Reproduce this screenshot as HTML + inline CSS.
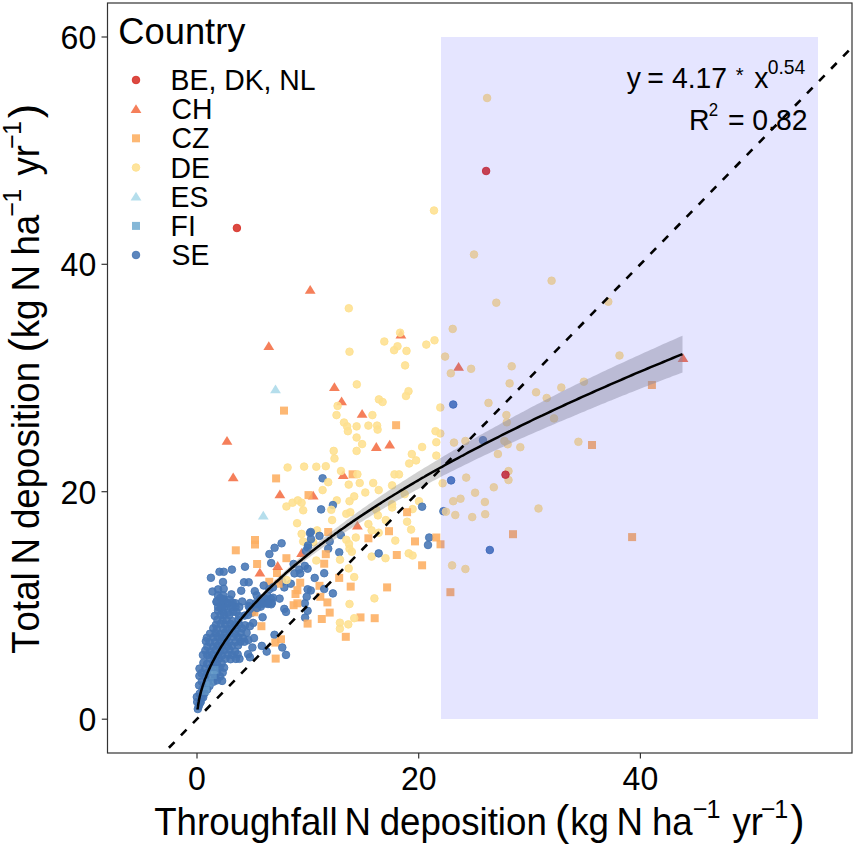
<!DOCTYPE html>
<html><head><meta charset="utf-8"><style>
html,body{margin:0;padding:0;background:#fff;width:855px;height:846px;overflow:hidden}
svg{display:block}
text{font-family:"Liberation Sans",sans-serif;fill:#000;font-kerning:none}
</style></head><body>
<svg width="855" height="846" viewBox="0 0 855 846">
<defs><clipPath id="pc"><rect x="107" y="3" width="745" height="750"/></clipPath></defs>
<g clip-path="url(#pc)" fill-opacity="0.88">
<circle cx="217.9" cy="595.2" r="3.8" fill="#4575b4" stroke="#4575b4" stroke-width="1" stroke-opacity="0.88"/>
<circle cx="223.2" cy="595.3" r="3.8" fill="#4575b4" stroke="#4575b4" stroke-width="1" stroke-opacity="0.88"/>
<circle cx="220.2" cy="598.0" r="3.8" fill="#4575b4" stroke="#4575b4" stroke-width="1" stroke-opacity="0.88"/>
<circle cx="224.1" cy="599.4" r="3.8" fill="#4575b4" stroke="#4575b4" stroke-width="1" stroke-opacity="0.88"/>
<circle cx="229.6" cy="599.6" r="3.8" fill="#4575b4" stroke="#4575b4" stroke-width="1" stroke-opacity="0.88"/>
<circle cx="259.9" cy="599.1" r="3.8" fill="#4575b4" stroke="#4575b4" stroke-width="1" stroke-opacity="0.88"/>
<circle cx="264.5" cy="598.3" r="3.8" fill="#4575b4" stroke="#4575b4" stroke-width="1" stroke-opacity="0.88"/>
<circle cx="271.0" cy="598.7" r="3.8" fill="#4575b4" stroke="#4575b4" stroke-width="1" stroke-opacity="0.88"/>
<circle cx="216.5" cy="602.1" r="3.8" fill="#4575b4" stroke="#4575b4" stroke-width="1" stroke-opacity="0.88"/>
<circle cx="222.9" cy="603.9" r="3.8" fill="#4575b4" stroke="#4575b4" stroke-width="1" stroke-opacity="0.88"/>
<circle cx="227.0" cy="602.9" r="3.8" fill="#4575b4" stroke="#4575b4" stroke-width="1" stroke-opacity="0.88"/>
<circle cx="232.7" cy="602.6" r="3.8" fill="#4575b4" stroke="#4575b4" stroke-width="1" stroke-opacity="0.88"/>
<circle cx="257.6" cy="603.5" r="3.8" fill="#4575b4" stroke="#4575b4" stroke-width="1" stroke-opacity="0.88"/>
<circle cx="262.1" cy="602.4" r="3.8" fill="#4575b4" stroke="#4575b4" stroke-width="1" stroke-opacity="0.88"/>
<circle cx="268.1" cy="602.5" r="3.8" fill="#4575b4" stroke="#4575b4" stroke-width="1" stroke-opacity="0.88"/>
<circle cx="271.9" cy="602.9" r="3.8" fill="#4575b4" stroke="#4575b4" stroke-width="1" stroke-opacity="0.88"/>
<circle cx="220.6" cy="608.0" r="3.8" fill="#4575b4" stroke="#4575b4" stroke-width="1" stroke-opacity="0.88"/>
<circle cx="224.4" cy="606.9" r="3.8" fill="#4575b4" stroke="#4575b4" stroke-width="1" stroke-opacity="0.88"/>
<circle cx="230.6" cy="607.6" r="3.8" fill="#4575b4" stroke="#4575b4" stroke-width="1" stroke-opacity="0.88"/>
<circle cx="235.6" cy="607.0" r="3.8" fill="#4575b4" stroke="#4575b4" stroke-width="1" stroke-opacity="0.88"/>
<circle cx="239.3" cy="606.9" r="3.8" fill="#4575b4" stroke="#4575b4" stroke-width="1" stroke-opacity="0.88"/>
<circle cx="249.7" cy="607.2" r="3.8" fill="#4575b4" stroke="#4575b4" stroke-width="1" stroke-opacity="0.88"/>
<circle cx="254.8" cy="607.1" r="3.8" fill="#4575b4" stroke="#4575b4" stroke-width="1" stroke-opacity="0.88"/>
<circle cx="260.8" cy="606.6" r="3.8" fill="#4575b4" stroke="#4575b4" stroke-width="1" stroke-opacity="0.88"/>
<circle cx="218.1" cy="610.7" r="3.8" fill="#4575b4" stroke="#4575b4" stroke-width="1" stroke-opacity="0.88"/>
<circle cx="223.3" cy="612.0" r="3.8" fill="#4575b4" stroke="#4575b4" stroke-width="1" stroke-opacity="0.88"/>
<circle cx="228.3" cy="612.4" r="3.8" fill="#4575b4" stroke="#4575b4" stroke-width="1" stroke-opacity="0.88"/>
<circle cx="233.3" cy="611.8" r="3.8" fill="#4575b4" stroke="#4575b4" stroke-width="1" stroke-opacity="0.88"/>
<circle cx="236.5" cy="612.1" r="3.8" fill="#4575b4" stroke="#4575b4" stroke-width="1" stroke-opacity="0.88"/>
<circle cx="252.3" cy="612.5" r="3.8" fill="#4575b4" stroke="#4575b4" stroke-width="1" stroke-opacity="0.88"/>
<circle cx="214.8" cy="615.9" r="3.8" fill="#4575b4" stroke="#4575b4" stroke-width="1" stroke-opacity="0.88"/>
<circle cx="220.6" cy="615.0" r="3.8" fill="#4575b4" stroke="#4575b4" stroke-width="1" stroke-opacity="0.88"/>
<circle cx="224.1" cy="615.2" r="3.8" fill="#4575b4" stroke="#4575b4" stroke-width="1" stroke-opacity="0.88"/>
<circle cx="229.2" cy="615.1" r="3.8" fill="#4575b4" stroke="#4575b4" stroke-width="1" stroke-opacity="0.88"/>
<circle cx="239.2" cy="616.0" r="3.8" fill="#4575b4" stroke="#4575b4" stroke-width="1" stroke-opacity="0.88"/>
<circle cx="244.6" cy="615.6" r="3.8" fill="#4575b4" stroke="#4575b4" stroke-width="1" stroke-opacity="0.88"/>
<circle cx="217.4" cy="619.8" r="3.8" fill="#4575b4" stroke="#4575b4" stroke-width="1" stroke-opacity="0.88"/>
<circle cx="222.6" cy="620.7" r="3.8" fill="#4575b4" stroke="#4575b4" stroke-width="1" stroke-opacity="0.88"/>
<circle cx="226.6" cy="620.2" r="3.8" fill="#4575b4" stroke="#4575b4" stroke-width="1" stroke-opacity="0.88"/>
<circle cx="232.4" cy="621.1" r="3.8" fill="#4575b4" stroke="#4575b4" stroke-width="1" stroke-opacity="0.88"/>
<circle cx="238.4" cy="620.1" r="3.8" fill="#4575b4" stroke="#4575b4" stroke-width="1" stroke-opacity="0.88"/>
<circle cx="215.9" cy="624.8" r="3.8" fill="#4575b4" stroke="#4575b4" stroke-width="1" stroke-opacity="0.88"/>
<circle cx="220.6" cy="623.7" r="3.8" fill="#4575b4" stroke="#4575b4" stroke-width="1" stroke-opacity="0.88"/>
<circle cx="225.5" cy="624.7" r="3.8" fill="#4575b4" stroke="#4575b4" stroke-width="1" stroke-opacity="0.88"/>
<circle cx="230.4" cy="623.9" r="3.8" fill="#4575b4" stroke="#4575b4" stroke-width="1" stroke-opacity="0.88"/>
<circle cx="235.5" cy="625.5" r="3.8" fill="#4575b4" stroke="#4575b4" stroke-width="1" stroke-opacity="0.88"/>
<circle cx="239.1" cy="624.3" r="3.8" fill="#4575b4" stroke="#4575b4" stroke-width="1" stroke-opacity="0.88"/>
<circle cx="245.1" cy="625.3" r="3.8" fill="#4575b4" stroke="#4575b4" stroke-width="1" stroke-opacity="0.88"/>
<circle cx="213.3" cy="628.3" r="3.8" fill="#4575b4" stroke="#4575b4" stroke-width="1" stroke-opacity="0.88"/>
<circle cx="216.7" cy="629.5" r="3.8" fill="#4575b4" stroke="#4575b4" stroke-width="1" stroke-opacity="0.88"/>
<circle cx="223.3" cy="629.0" r="3.8" fill="#4575b4" stroke="#4575b4" stroke-width="1" stroke-opacity="0.88"/>
<circle cx="227.4" cy="629.4" r="3.8" fill="#4575b4" stroke="#4575b4" stroke-width="1" stroke-opacity="0.88"/>
<circle cx="231.9" cy="628.5" r="3.8" fill="#4575b4" stroke="#4575b4" stroke-width="1" stroke-opacity="0.88"/>
<circle cx="236.9" cy="629.1" r="3.8" fill="#4575b4" stroke="#4575b4" stroke-width="1" stroke-opacity="0.88"/>
<circle cx="242.1" cy="628.4" r="3.8" fill="#4575b4" stroke="#4575b4" stroke-width="1" stroke-opacity="0.88"/>
<circle cx="210.0" cy="633.7" r="3.8" fill="#4575b4" stroke="#4575b4" stroke-width="1" stroke-opacity="0.88"/>
<circle cx="215.7" cy="633.1" r="3.8" fill="#4575b4" stroke="#4575b4" stroke-width="1" stroke-opacity="0.88"/>
<circle cx="220.5" cy="634.2" r="3.8" fill="#4575b4" stroke="#4575b4" stroke-width="1" stroke-opacity="0.88"/>
<circle cx="224.9" cy="632.8" r="3.8" fill="#4575b4" stroke="#4575b4" stroke-width="1" stroke-opacity="0.88"/>
<circle cx="229.5" cy="633.7" r="3.8" fill="#4575b4" stroke="#4575b4" stroke-width="1" stroke-opacity="0.88"/>
<circle cx="235.4" cy="634.2" r="3.8" fill="#4575b4" stroke="#4575b4" stroke-width="1" stroke-opacity="0.88"/>
<circle cx="240.7" cy="632.8" r="3.8" fill="#4575b4" stroke="#4575b4" stroke-width="1" stroke-opacity="0.88"/>
<circle cx="206.9" cy="637.8" r="3.8" fill="#4575b4" stroke="#4575b4" stroke-width="1" stroke-opacity="0.88"/>
<circle cx="213.4" cy="637.4" r="3.8" fill="#4575b4" stroke="#4575b4" stroke-width="1" stroke-opacity="0.88"/>
<circle cx="217.6" cy="636.9" r="3.8" fill="#4575b4" stroke="#4575b4" stroke-width="1" stroke-opacity="0.88"/>
<circle cx="222.0" cy="638.0" r="3.8" fill="#4575b4" stroke="#4575b4" stroke-width="1" stroke-opacity="0.88"/>
<circle cx="226.7" cy="638.4" r="3.8" fill="#4575b4" stroke="#4575b4" stroke-width="1" stroke-opacity="0.88"/>
<circle cx="233.3" cy="636.8" r="3.8" fill="#4575b4" stroke="#4575b4" stroke-width="1" stroke-opacity="0.88"/>
<circle cx="238.4" cy="637.4" r="3.8" fill="#4575b4" stroke="#4575b4" stroke-width="1" stroke-opacity="0.88"/>
<circle cx="243.0" cy="638.1" r="3.8" fill="#4575b4" stroke="#4575b4" stroke-width="1" stroke-opacity="0.88"/>
<circle cx="205.9" cy="641.2" r="3.8" fill="#4575b4" stroke="#4575b4" stroke-width="1" stroke-opacity="0.88"/>
<circle cx="209.7" cy="642.4" r="3.8" fill="#4575b4" stroke="#4575b4" stroke-width="1" stroke-opacity="0.88"/>
<circle cx="215.2" cy="642.1" r="3.8" fill="#4575b4" stroke="#4575b4" stroke-width="1" stroke-opacity="0.88"/>
<circle cx="220.3" cy="641.9" r="3.8" fill="#4575b4" stroke="#4575b4" stroke-width="1" stroke-opacity="0.88"/>
<circle cx="224.6" cy="641.3" r="3.8" fill="#4575b4" stroke="#4575b4" stroke-width="1" stroke-opacity="0.88"/>
<circle cx="229.1" cy="642.4" r="3.8" fill="#4575b4" stroke="#4575b4" stroke-width="1" stroke-opacity="0.88"/>
<circle cx="235.5" cy="642.0" r="3.8" fill="#4575b4" stroke="#4575b4" stroke-width="1" stroke-opacity="0.88"/>
<circle cx="240.5" cy="641.7" r="3.8" fill="#4575b4" stroke="#4575b4" stroke-width="1" stroke-opacity="0.88"/>
<circle cx="244.5" cy="641.7" r="3.8" fill="#4575b4" stroke="#4575b4" stroke-width="1" stroke-opacity="0.88"/>
<circle cx="207.3" cy="646.8" r="3.8" fill="#4575b4" stroke="#4575b4" stroke-width="1" stroke-opacity="0.88"/>
<circle cx="213.1" cy="646.8" r="3.8" fill="#4575b4" stroke="#4575b4" stroke-width="1" stroke-opacity="0.88"/>
<circle cx="217.7" cy="645.6" r="3.8" fill="#4575b4" stroke="#4575b4" stroke-width="1" stroke-opacity="0.88"/>
<circle cx="222.3" cy="645.7" r="3.8" fill="#4575b4" stroke="#4575b4" stroke-width="1" stroke-opacity="0.88"/>
<circle cx="227.6" cy="646.4" r="3.8" fill="#4575b4" stroke="#4575b4" stroke-width="1" stroke-opacity="0.88"/>
<circle cx="231.9" cy="645.8" r="3.8" fill="#4575b4" stroke="#4575b4" stroke-width="1" stroke-opacity="0.88"/>
<circle cx="238.1" cy="645.4" r="3.8" fill="#4575b4" stroke="#4575b4" stroke-width="1" stroke-opacity="0.88"/>
<circle cx="205.3" cy="650.5" r="3.8" fill="#4575b4" stroke="#4575b4" stroke-width="1" stroke-opacity="0.88"/>
<circle cx="210.1" cy="651.5" r="3.8" fill="#4575b4" stroke="#4575b4" stroke-width="1" stroke-opacity="0.88"/>
<circle cx="215.8" cy="649.9" r="3.8" fill="#4575b4" stroke="#4575b4" stroke-width="1" stroke-opacity="0.88"/>
<circle cx="220.6" cy="650.9" r="3.8" fill="#4575b4" stroke="#4575b4" stroke-width="1" stroke-opacity="0.88"/>
<circle cx="224.1" cy="650.3" r="3.8" fill="#4575b4" stroke="#4575b4" stroke-width="1" stroke-opacity="0.88"/>
<circle cx="229.5" cy="649.8" r="3.8" fill="#4575b4" stroke="#4575b4" stroke-width="1" stroke-opacity="0.88"/>
<circle cx="235.1" cy="651.5" r="3.8" fill="#4575b4" stroke="#4575b4" stroke-width="1" stroke-opacity="0.88"/>
<circle cx="202.9" cy="655.0" r="3.8" fill="#4575b4" stroke="#4575b4" stroke-width="1" stroke-opacity="0.88"/>
<circle cx="207.3" cy="655.2" r="3.8" fill="#4575b4" stroke="#4575b4" stroke-width="1" stroke-opacity="0.88"/>
<circle cx="212.1" cy="654.9" r="3.8" fill="#4575b4" stroke="#4575b4" stroke-width="1" stroke-opacity="0.88"/>
<circle cx="218.0" cy="654.8" r="3.8" fill="#4575b4" stroke="#4575b4" stroke-width="1" stroke-opacity="0.88"/>
<circle cx="221.9" cy="655.7" r="3.8" fill="#4575b4" stroke="#4575b4" stroke-width="1" stroke-opacity="0.88"/>
<circle cx="227.9" cy="654.7" r="3.8" fill="#4575b4" stroke="#4575b4" stroke-width="1" stroke-opacity="0.88"/>
<circle cx="232.2" cy="655.0" r="3.8" fill="#4575b4" stroke="#4575b4" stroke-width="1" stroke-opacity="0.88"/>
<circle cx="237.7" cy="654.4" r="3.8" fill="#4575b4" stroke="#4575b4" stroke-width="1" stroke-opacity="0.88"/>
<circle cx="248.1" cy="654.2" r="3.8" fill="#4575b4" stroke="#4575b4" stroke-width="1" stroke-opacity="0.88"/>
<circle cx="209.9" cy="658.6" r="3.8" fill="#4575b4" stroke="#4575b4" stroke-width="1" stroke-opacity="0.88"/>
<circle cx="215.2" cy="659.0" r="3.8" fill="#4575b4" stroke="#4575b4" stroke-width="1" stroke-opacity="0.88"/>
<circle cx="219.2" cy="658.4" r="3.8" fill="#4575b4" stroke="#4575b4" stroke-width="1" stroke-opacity="0.88"/>
<circle cx="225.5" cy="658.8" r="3.8" fill="#4575b4" stroke="#4575b4" stroke-width="1" stroke-opacity="0.88"/>
<circle cx="230.6" cy="659.2" r="3.8" fill="#4575b4" stroke="#4575b4" stroke-width="1" stroke-opacity="0.88"/>
<circle cx="235.9" cy="658.9" r="3.8" fill="#4575b4" stroke="#4575b4" stroke-width="1" stroke-opacity="0.88"/>
<circle cx="239.5" cy="658.8" r="3.8" fill="#4575b4" stroke="#4575b4" stroke-width="1" stroke-opacity="0.88"/>
<circle cx="203.4" cy="662.7" r="3.8" fill="#4575b4" stroke="#4575b4" stroke-width="1" stroke-opacity="0.88"/>
<circle cx="207.1" cy="663.8" r="3.8" fill="#4575b4" stroke="#4575b4" stroke-width="1" stroke-opacity="0.88"/>
<circle cx="213.4" cy="662.8" r="3.8" fill="#4575b4" stroke="#4575b4" stroke-width="1" stroke-opacity="0.88"/>
<circle cx="217.1" cy="664.3" r="3.8" fill="#4575b4" stroke="#4575b4" stroke-width="1" stroke-opacity="0.88"/>
<circle cx="221.7" cy="663.4" r="3.8" fill="#4575b4" stroke="#4575b4" stroke-width="1" stroke-opacity="0.88"/>
<circle cx="199.5" cy="668.6" r="3.8" fill="#4575b4" stroke="#4575b4" stroke-width="1" stroke-opacity="0.88"/>
<circle cx="205.3" cy="668.7" r="3.8" fill="#4575b4" stroke="#4575b4" stroke-width="1" stroke-opacity="0.88"/>
<circle cx="210.7" cy="667.8" r="3.8" fill="#4575b4" stroke="#4575b4" stroke-width="1" stroke-opacity="0.88"/>
<circle cx="215.8" cy="668.4" r="3.8" fill="#4575b4" stroke="#4575b4" stroke-width="1" stroke-opacity="0.88"/>
<circle cx="219.7" cy="667.7" r="3.8" fill="#4575b4" stroke="#4575b4" stroke-width="1" stroke-opacity="0.88"/>
<circle cx="224.1" cy="667.7" r="3.8" fill="#4575b4" stroke="#4575b4" stroke-width="1" stroke-opacity="0.88"/>
<circle cx="201.5" cy="673.2" r="3.8" fill="#4575b4" stroke="#4575b4" stroke-width="1" stroke-opacity="0.88"/>
<circle cx="206.9" cy="673.1" r="3.8" fill="#4575b4" stroke="#4575b4" stroke-width="1" stroke-opacity="0.88"/>
<circle cx="211.7" cy="672.2" r="3.8" fill="#4575b4" stroke="#4575b4" stroke-width="1" stroke-opacity="0.88"/>
<circle cx="216.9" cy="672.9" r="3.8" fill="#4575b4" stroke="#4575b4" stroke-width="1" stroke-opacity="0.88"/>
<circle cx="222.7" cy="672.6" r="3.8" fill="#4575b4" stroke="#4575b4" stroke-width="1" stroke-opacity="0.88"/>
<circle cx="199.4" cy="675.9" r="3.8" fill="#4575b4" stroke="#4575b4" stroke-width="1" stroke-opacity="0.88"/>
<circle cx="205.9" cy="677.1" r="3.8" fill="#4575b4" stroke="#4575b4" stroke-width="1" stroke-opacity="0.88"/>
<circle cx="210.7" cy="677.6" r="3.8" fill="#4575b4" stroke="#4575b4" stroke-width="1" stroke-opacity="0.88"/>
<circle cx="215.2" cy="677.5" r="3.8" fill="#4575b4" stroke="#4575b4" stroke-width="1" stroke-opacity="0.88"/>
<circle cx="220.1" cy="676.4" r="3.8" fill="#4575b4" stroke="#4575b4" stroke-width="1" stroke-opacity="0.88"/>
<circle cx="201.8" cy="681.5" r="3.8" fill="#4575b4" stroke="#4575b4" stroke-width="1" stroke-opacity="0.88"/>
<circle cx="207.9" cy="681.9" r="3.8" fill="#4575b4" stroke="#4575b4" stroke-width="1" stroke-opacity="0.88"/>
<circle cx="213.5" cy="681.7" r="3.8" fill="#4575b4" stroke="#4575b4" stroke-width="1" stroke-opacity="0.88"/>
<circle cx="217.2" cy="680.3" r="3.8" fill="#4575b4" stroke="#4575b4" stroke-width="1" stroke-opacity="0.88"/>
<circle cx="222.1" cy="680.9" r="3.8" fill="#4575b4" stroke="#4575b4" stroke-width="1" stroke-opacity="0.88"/>
<circle cx="199.1" cy="685.4" r="3.8" fill="#4575b4" stroke="#4575b4" stroke-width="1" stroke-opacity="0.88"/>
<circle cx="204.2" cy="684.9" r="3.8" fill="#4575b4" stroke="#4575b4" stroke-width="1" stroke-opacity="0.88"/>
<circle cx="209.5" cy="685.9" r="3.8" fill="#4575b4" stroke="#4575b4" stroke-width="1" stroke-opacity="0.88"/>
<circle cx="202.6" cy="689.4" r="3.8" fill="#4575b4" stroke="#4575b4" stroke-width="1" stroke-opacity="0.88"/>
<circle cx="207.2" cy="689.5" r="3.8" fill="#4575b4" stroke="#4575b4" stroke-width="1" stroke-opacity="0.88"/>
<circle cx="199.6" cy="693.7" r="3.8" fill="#4575b4" stroke="#4575b4" stroke-width="1" stroke-opacity="0.88"/>
<circle cx="204.6" cy="693.2" r="3.8" fill="#4575b4" stroke="#4575b4" stroke-width="1" stroke-opacity="0.88"/>
<circle cx="203.2" cy="697.3" r="3.8" fill="#4575b4" stroke="#4575b4" stroke-width="1" stroke-opacity="0.88"/>
<circle cx="200.7" cy="701.9" r="3.8" fill="#4575b4" stroke="#4575b4" stroke-width="1" stroke-opacity="0.88"/>
<path d="M310.2 284.9L315.6 293.7L304.8 293.7Z" fill="#f46d43"/>
<circle cx="348.8" cy="308.3" r="3.8" fill="#fee090" stroke="#fee090" stroke-width="1" stroke-opacity="0.88"/>
<circle cx="434.0" cy="210.5" r="3.8" fill="#fee090" stroke="#fee090" stroke-width="1" stroke-opacity="0.88"/>
<path d="M268.8 341.2L274.2 350.0L263.4 350.0Z" fill="#f46d43"/>
<path d="M275.5 384.5L280.9 393.3L270.1 393.3Z" fill="#abd9e9"/>
<path d="M400.9 329.6L406.3 338.4L395.5 338.4Z" fill="#f46d43"/>
<circle cx="400.1" cy="332.7" r="3.8" fill="#fee090" stroke="#fee090" stroke-width="1" stroke-opacity="0.88"/>
<circle cx="384.3" cy="341.5" r="3.8" fill="#fee090" stroke="#fee090" stroke-width="1" stroke-opacity="0.88"/>
<circle cx="349.5" cy="351.7" r="3.8" fill="#fee090" stroke="#fee090" stroke-width="1" stroke-opacity="0.88"/>
<circle cx="397.5" cy="346.3" r="3.8" fill="#fee090" stroke="#fee090" stroke-width="1" stroke-opacity="0.88"/>
<circle cx="394.1" cy="350.2" r="3.8" fill="#fee090" stroke="#fee090" stroke-width="1" stroke-opacity="0.88"/>
<circle cx="406.5" cy="350.9" r="3.8" fill="#fee090" stroke="#fee090" stroke-width="1" stroke-opacity="0.88"/>
<circle cx="426.3" cy="344.6" r="3.8" fill="#fee090" stroke="#fee090" stroke-width="1" stroke-opacity="0.88"/>
<circle cx="434.5" cy="340.3" r="3.8" fill="#fee090" stroke="#fee090" stroke-width="1" stroke-opacity="0.88"/>
<circle cx="405.1" cy="365.4" r="3.8" fill="#fee090" stroke="#fee090" stroke-width="1" stroke-opacity="0.88"/>
<path d="M334.4 382.2L339.8 391.0L329.0 391.0Z" fill="#f46d43"/>
<circle cx="356.8" cy="384.4" r="3.8" fill="#fee090" stroke="#fee090" stroke-width="1" stroke-opacity="0.88"/>
<circle cx="408.5" cy="391.2" r="3.8" fill="#fee090" stroke="#fee090" stroke-width="1" stroke-opacity="0.88"/>
<circle cx="406.0" cy="396.0" r="3.8" fill="#fee090" stroke="#fee090" stroke-width="1" stroke-opacity="0.88"/>
<circle cx="378.9" cy="399.4" r="3.8" fill="#fee090" stroke="#fee090" stroke-width="1" stroke-opacity="0.88"/>
<circle cx="487.1" cy="98.0" r="3.8" fill="#fee090" stroke="#fee090" stroke-width="1" stroke-opacity="0.88"/>
<circle cx="474.0" cy="254.5" r="3.8" fill="#fee090" stroke="#fee090" stroke-width="1" stroke-opacity="0.88"/>
<circle cx="551.6" cy="280.7" r="3.8" fill="#fee090" stroke="#fee090" stroke-width="1" stroke-opacity="0.88"/>
<circle cx="496.3" cy="302.7" r="3.8" fill="#fee090" stroke="#fee090" stroke-width="1" stroke-opacity="0.88"/>
<circle cx="608.3" cy="301.7" r="3.8" fill="#fee090" stroke="#fee090" stroke-width="1" stroke-opacity="0.88"/>
<circle cx="452.7" cy="328.9" r="3.8" fill="#fee090" stroke="#fee090" stroke-width="1" stroke-opacity="0.88"/>
<rect x="280.0" y="406.6" width="8.0" height="8.0" fill="#fdae61"/>
<path d="M227.0 436.0L232.4 444.8L221.6 444.8Z" fill="#f46d43"/>
<circle cx="287.6" cy="467.5" r="3.8" fill="#fee090" stroke="#fee090" stroke-width="1" stroke-opacity="0.88"/>
<circle cx="304.1" cy="466.6" r="3.8" fill="#fee090" stroke="#fee090" stroke-width="1" stroke-opacity="0.88"/>
<path d="M341.6 396.4L347.0 405.2L336.2 405.2Z" fill="#f46d43"/>
<circle cx="337.6" cy="405.9" r="3.8" fill="#fee090" stroke="#fee090" stroke-width="1" stroke-opacity="0.88"/>
<circle cx="382.6" cy="402.0" r="3.8" fill="#fee090" stroke="#fee090" stroke-width="1" stroke-opacity="0.88"/>
<circle cx="440.3" cy="407.5" r="3.8" fill="#fee090" stroke="#fee090" stroke-width="1" stroke-opacity="0.88"/>
<path d="M362.1 409.0L367.5 417.8L356.7 417.8Z" fill="#f46d43"/>
<circle cx="372.4" cy="415.1" r="3.8" fill="#fee090" stroke="#fee090" stroke-width="1" stroke-opacity="0.88"/>
<circle cx="336.5" cy="415.1" r="3.8" fill="#fee090" stroke="#fee090" stroke-width="1" stroke-opacity="0.88"/>
<circle cx="344.0" cy="422.5" r="3.8" fill="#fee090" stroke="#fee090" stroke-width="1" stroke-opacity="0.88"/>
<circle cx="347.1" cy="426.4" r="3.8" fill="#fee090" stroke="#fee090" stroke-width="1" stroke-opacity="0.88"/>
<circle cx="347.9" cy="431.2" r="3.8" fill="#fee090" stroke="#fee090" stroke-width="1" stroke-opacity="0.88"/>
<circle cx="356.6" cy="426.4" r="3.8" fill="#fee090" stroke="#fee090" stroke-width="1" stroke-opacity="0.88"/>
<circle cx="368.4" cy="425.6" r="3.8" fill="#fee090" stroke="#fee090" stroke-width="1" stroke-opacity="0.88"/>
<circle cx="377.1" cy="425.6" r="3.8" fill="#fee090" stroke="#fee090" stroke-width="1" stroke-opacity="0.88"/>
<circle cx="377.6" cy="429.6" r="3.8" fill="#fee090" stroke="#fee090" stroke-width="1" stroke-opacity="0.88"/>
<rect x="392.1" y="421.2" width="8.0" height="8.0" fill="#fdae61"/>
<circle cx="435.5" cy="431.2" r="3.8" fill="#fee090" stroke="#fee090" stroke-width="1" stroke-opacity="0.88"/>
<circle cx="440.3" cy="433.5" r="3.8" fill="#fee090" stroke="#fee090" stroke-width="1" stroke-opacity="0.88"/>
<circle cx="356.6" cy="437.5" r="3.8" fill="#fee090" stroke="#fee090" stroke-width="1" stroke-opacity="0.88"/>
<circle cx="362.1" cy="444.1" r="3.8" fill="#fee090" stroke="#fee090" stroke-width="1" stroke-opacity="0.88"/>
<circle cx="356.6" cy="450.9" r="3.8" fill="#fee090" stroke="#fee090" stroke-width="1" stroke-opacity="0.88"/>
<path d="M376.3 442.1L381.7 450.9L370.9 450.9Z" fill="#f46d43"/>
<path d="M389.7 439.8L395.1 448.6L384.3 448.6Z" fill="#f46d43"/>
<circle cx="422.1" cy="447.0" r="3.8" fill="#fee090" stroke="#fee090" stroke-width="1" stroke-opacity="0.88"/>
<circle cx="436.3" cy="442.2" r="3.8" fill="#fee090" stroke="#fee090" stroke-width="1" stroke-opacity="0.88"/>
<circle cx="333.7" cy="450.9" r="3.8" fill="#fee090" stroke="#fee090" stroke-width="1" stroke-opacity="0.88"/>
<circle cx="334.5" cy="458.5" r="3.8" fill="#fee090" stroke="#fee090" stroke-width="1" stroke-opacity="0.88"/>
<circle cx="411.8" cy="454.1" r="3.8" fill="#fee090" stroke="#fee090" stroke-width="1" stroke-opacity="0.88"/>
<circle cx="416.1" cy="460.4" r="3.8" fill="#fee090" stroke="#fee090" stroke-width="1" stroke-opacity="0.88"/>
<circle cx="409.2" cy="463.5" r="3.8" fill="#fee090" stroke="#fee090" stroke-width="1" stroke-opacity="0.88"/>
<circle cx="436.3" cy="455.6" r="3.8" fill="#fee090" stroke="#fee090" stroke-width="1" stroke-opacity="0.88"/>
<circle cx="316.3" cy="466.7" r="3.8" fill="#fee090" stroke="#fee090" stroke-width="1" stroke-opacity="0.88"/>
<circle cx="325.8" cy="466.2" r="3.8" fill="#fee090" stroke="#fee090" stroke-width="1" stroke-opacity="0.88"/>
<circle cx="445.1" cy="356.6" r="3.8" fill="#fee090" stroke="#fee090" stroke-width="1" stroke-opacity="0.88"/>
<path d="M458.6 362.0L464.0 370.8L453.2 370.8Z" fill="#f46d43"/>
<circle cx="471.1" cy="368.8" r="3.8" fill="#fee090" stroke="#fee090" stroke-width="1" stroke-opacity="0.88"/>
<circle cx="450.8" cy="373.3" r="3.8" fill="#fee090" stroke="#fee090" stroke-width="1" stroke-opacity="0.88"/>
<circle cx="511.7" cy="366.3" r="3.8" fill="#fee090" stroke="#fee090" stroke-width="1" stroke-opacity="0.88"/>
<circle cx="509.6" cy="383.4" r="3.8" fill="#fee090" stroke="#fee090" stroke-width="1" stroke-opacity="0.88"/>
<circle cx="536.1" cy="392.3" r="3.8" fill="#fee090" stroke="#fee090" stroke-width="1" stroke-opacity="0.88"/>
<circle cx="546.7" cy="398.0" r="3.8" fill="#fee090" stroke="#fee090" stroke-width="1" stroke-opacity="0.88"/>
<circle cx="561.3" cy="387.5" r="3.8" fill="#fee090" stroke="#fee090" stroke-width="1" stroke-opacity="0.88"/>
<circle cx="453.2" cy="404.5" r="3.8" fill="#4575b4" stroke="#4575b4" stroke-width="1" stroke-opacity="0.88"/>
<circle cx="488.5" cy="402.9" r="3.8" fill="#fee090" stroke="#fee090" stroke-width="1" stroke-opacity="0.88"/>
<circle cx="506.4" cy="415.1" r="3.8" fill="#fee090" stroke="#fee090" stroke-width="1" stroke-opacity="0.88"/>
<circle cx="554.0" cy="418.4" r="3.8" fill="#fee090" stroke="#fee090" stroke-width="1" stroke-opacity="0.88"/>
<circle cx="619.5" cy="355.5" r="3.8" fill="#fee090" stroke="#fee090" stroke-width="1" stroke-opacity="0.88"/>
<circle cx="583.9" cy="381.7" r="3.8" fill="#fee090" stroke="#fee090" stroke-width="1" stroke-opacity="0.88"/>
<rect x="647.9" y="381.0" width="8.0" height="8.0" fill="#fdae61"/>
<path d="M683.0 353.2L688.4 362.0L677.6 362.0Z" fill="#f46d43"/>
<circle cx="506.8" cy="422.3" r="3.8" fill="#fee090" stroke="#fee090" stroke-width="1" stroke-opacity="0.88"/>
<circle cx="454.0" cy="442.6" r="3.8" fill="#fee090" stroke="#fee090" stroke-width="1" stroke-opacity="0.88"/>
<circle cx="465.4" cy="441.0" r="3.8" fill="#fee090" stroke="#fee090" stroke-width="1" stroke-opacity="0.88"/>
<circle cx="483.0" cy="440.2" r="3.8" fill="#4575b4" stroke="#4575b4" stroke-width="1" stroke-opacity="0.88"/>
<circle cx="504.4" cy="441.0" r="3.8" fill="#fee090" stroke="#fee090" stroke-width="1" stroke-opacity="0.88"/>
<circle cx="507.7" cy="444.3" r="3.8" fill="#fee090" stroke="#fee090" stroke-width="1" stroke-opacity="0.88"/>
<circle cx="520.3" cy="447.2" r="3.8" fill="#fee090" stroke="#fee090" stroke-width="1" stroke-opacity="0.88"/>
<circle cx="497.9" cy="454.0" r="3.8" fill="#fee090" stroke="#fee090" stroke-width="1" stroke-opacity="0.88"/>
<circle cx="578.4" cy="441.8" r="3.8" fill="#fee090" stroke="#fee090" stroke-width="1" stroke-opacity="0.88"/>
<circle cx="508.5" cy="471.1" r="3.8" fill="#fee090" stroke="#fee090" stroke-width="1" stroke-opacity="0.88"/>
<circle cx="508.5" cy="480.0" r="3.8" fill="#fee090" stroke="#fee090" stroke-width="1" stroke-opacity="0.88"/>
<circle cx="451.1" cy="480.4" r="3.8" fill="#4575b4" stroke="#4575b4" stroke-width="1" stroke-opacity="0.88"/>
<circle cx="466.2" cy="477.6" r="3.8" fill="#fee090" stroke="#fee090" stroke-width="1" stroke-opacity="0.88"/>
<circle cx="442.6" cy="483.3" r="3.8" fill="#fee090" stroke="#fee090" stroke-width="1" stroke-opacity="0.88"/>
<circle cx="493.8" cy="487.3" r="3.8" fill="#fee090" stroke="#fee090" stroke-width="1" stroke-opacity="0.88"/>
<circle cx="475.1" cy="492.7" r="3.8" fill="#fee090" stroke="#fee090" stroke-width="1" stroke-opacity="0.88"/>
<circle cx="460.5" cy="498.7" r="3.8" fill="#fee090" stroke="#fee090" stroke-width="1" stroke-opacity="0.88"/>
<circle cx="453.2" cy="501.2" r="3.8" fill="#fee090" stroke="#fee090" stroke-width="1" stroke-opacity="0.88"/>
<circle cx="484.9" cy="502.0" r="3.8" fill="#fee090" stroke="#fee090" stroke-width="1" stroke-opacity="0.88"/>
<circle cx="538.5" cy="508.5" r="3.8" fill="#fee090" stroke="#fee090" stroke-width="1" stroke-opacity="0.88"/>
<circle cx="443.4" cy="511.2" r="3.8" fill="#4575b4" stroke="#4575b4" stroke-width="1" stroke-opacity="0.88"/>
<circle cx="445.9" cy="511.7" r="3.8" fill="#fee090" stroke="#fee090" stroke-width="1" stroke-opacity="0.88"/>
<circle cx="455.3" cy="515.0" r="3.8" fill="#fee090" stroke="#fee090" stroke-width="1" stroke-opacity="0.88"/>
<circle cx="472.2" cy="517.1" r="3.8" fill="#fee090" stroke="#fee090" stroke-width="1" stroke-opacity="0.88"/>
<circle cx="485.2" cy="514.2" r="3.8" fill="#fee090" stroke="#fee090" stroke-width="1" stroke-opacity="0.88"/>
<rect x="588.0" y="441.0" width="8.0" height="8.0" fill="#fdae61"/>
<rect x="628.1" y="533.1" width="8.0" height="8.0" fill="#fdae61"/>
<rect x="509.0" y="530.2" width="8.0" height="8.0" fill="#fdae61"/>
<rect x="436.5" y="540.3" width="8.0" height="8.0" fill="#fdae61"/>
<circle cx="489.8" cy="550.0" r="3.8" fill="#4575b4" stroke="#4575b4" stroke-width="1" stroke-opacity="0.88"/>
<circle cx="452.1" cy="565.4" r="3.8" fill="#fee090" stroke="#fee090" stroke-width="1" stroke-opacity="0.88"/>
<circle cx="465.4" cy="569.0" r="3.8" fill="#fee090" stroke="#fee090" stroke-width="1" stroke-opacity="0.88"/>
<rect x="446.4" y="588.2" width="8.0" height="8.0" fill="#fdae61"/>
<circle cx="322.6" cy="478.3" r="3.8" fill="#4575b4" stroke="#4575b4" stroke-width="1" stroke-opacity="0.88"/>
<circle cx="328.2" cy="482.2" r="3.8" fill="#fee090" stroke="#fee090" stroke-width="1" stroke-opacity="0.88"/>
<path d="M343.2 470.3L348.6 479.1L337.8 479.1Z" fill="#f46d43"/>
<rect x="348.6" y="470.3" width="8.0" height="8.0" fill="#fdae61"/>
<circle cx="357.4" cy="474.3" r="3.8" fill="#fee090" stroke="#fee090" stroke-width="1" stroke-opacity="0.88"/>
<circle cx="341.0" cy="471.0" r="3.8" fill="#fee090" stroke="#fee090" stroke-width="1" stroke-opacity="0.88"/>
<circle cx="394.5" cy="474.4" r="3.8" fill="#fee090" stroke="#fee090" stroke-width="1" stroke-opacity="0.88"/>
<circle cx="399.0" cy="474.4" r="3.8" fill="#fee090" stroke="#fee090" stroke-width="1" stroke-opacity="0.88"/>
<circle cx="348.7" cy="484.6" r="3.8" fill="#fee090" stroke="#fee090" stroke-width="1" stroke-opacity="0.88"/>
<circle cx="359.7" cy="483.0" r="3.8" fill="#fee090" stroke="#fee090" stroke-width="1" stroke-opacity="0.88"/>
<circle cx="373.2" cy="483.0" r="3.8" fill="#fee090" stroke="#fee090" stroke-width="1" stroke-opacity="0.88"/>
<circle cx="392.1" cy="485.4" r="3.8" fill="#fee090" stroke="#fee090" stroke-width="1" stroke-opacity="0.88"/>
<circle cx="322.6" cy="490.1" r="3.8" fill="#fee090" stroke="#fee090" stroke-width="1" stroke-opacity="0.88"/>
<circle cx="365.3" cy="492.5" r="3.8" fill="#fee090" stroke="#fee090" stroke-width="1" stroke-opacity="0.88"/>
<circle cx="378.7" cy="490.1" r="3.8" fill="#fee090" stroke="#fee090" stroke-width="1" stroke-opacity="0.88"/>
<path d="M313.2 490.8L318.6 499.6L307.8 499.6Z" fill="#f46d43"/>
<circle cx="354.2" cy="496.4" r="3.8" fill="#fee090" stroke="#fee090" stroke-width="1" stroke-opacity="0.88"/>
<circle cx="349.5" cy="501.2" r="3.8" fill="#fee090" stroke="#fee090" stroke-width="1" stroke-opacity="0.88"/>
<circle cx="336.8" cy="500.4" r="3.8" fill="#fee090" stroke="#fee090" stroke-width="1" stroke-opacity="0.88"/>
<circle cx="332.9" cy="505.1" r="3.8" fill="#4575b4" stroke="#4575b4" stroke-width="1" stroke-opacity="0.88"/>
<circle cx="331.3" cy="509.8" r="3.8" fill="#fee090" stroke="#fee090" stroke-width="1" stroke-opacity="0.88"/>
<circle cx="321.1" cy="509.4" r="3.8" fill="#4575b4" stroke="#4575b4" stroke-width="1" stroke-opacity="0.88"/>
<circle cx="346.3" cy="513.8" r="3.8" fill="#fee090" stroke="#fee090" stroke-width="1" stroke-opacity="0.88"/>
<circle cx="350.3" cy="512.2" r="3.8" fill="#fee090" stroke="#fee090" stroke-width="1" stroke-opacity="0.88"/>
<circle cx="332.1" cy="520.1" r="3.8" fill="#fee090" stroke="#fee090" stroke-width="1" stroke-opacity="0.88"/>
<circle cx="404.7" cy="494.1" r="3.8" fill="#fee090" stroke="#fee090" stroke-width="1" stroke-opacity="0.88"/>
<circle cx="392.1" cy="504.3" r="3.8" fill="#fee090" stroke="#fee090" stroke-width="1" stroke-opacity="0.88"/>
<circle cx="376.3" cy="509.8" r="3.8" fill="#fee090" stroke="#fee090" stroke-width="1" stroke-opacity="0.88"/>
<circle cx="377.9" cy="515.4" r="3.8" fill="#fee090" stroke="#fee090" stroke-width="1" stroke-opacity="0.88"/>
<circle cx="385.8" cy="520.1" r="3.8" fill="#fee090" stroke="#fee090" stroke-width="1" stroke-opacity="0.88"/>
<circle cx="392.1" cy="507.5" r="3.8" fill="#fee090" stroke="#fee090" stroke-width="1" stroke-opacity="0.88"/>
<circle cx="419.0" cy="501.2" r="3.8" fill="#fee090" stroke="#fee090" stroke-width="1" stroke-opacity="0.88"/>
<circle cx="422.1" cy="506.7" r="3.8" fill="#4575b4" stroke="#4575b4" stroke-width="1" stroke-opacity="0.88"/>
<circle cx="412.6" cy="509.1" r="3.8" fill="#fee090" stroke="#fee090" stroke-width="1" stroke-opacity="0.88"/>
<rect x="403.1" y="508.2" width="8.0" height="8.0" fill="#fdae61"/>
<circle cx="407.1" cy="521.7" r="3.8" fill="#fee090" stroke="#fee090" stroke-width="1" stroke-opacity="0.88"/>
<circle cx="411.1" cy="529.6" r="3.8" fill="#fee090" stroke="#fee090" stroke-width="1" stroke-opacity="0.88"/>
<path d="M357.4 520.8L362.8 529.6L352.0 529.6Z" fill="#f46d43"/>
<circle cx="368.4" cy="524.1" r="3.8" fill="#fee090" stroke="#fee090" stroke-width="1" stroke-opacity="0.88"/>
<circle cx="371.6" cy="530.4" r="3.8" fill="#fee090" stroke="#fee090" stroke-width="1" stroke-opacity="0.88"/>
<rect x="385.0" y="527.2" width="8.0" height="8.0" fill="#fdae61"/>
<circle cx="378.7" cy="532.7" r="3.8" fill="#fee090" stroke="#fee090" stroke-width="1" stroke-opacity="0.88"/>
<circle cx="317.1" cy="530.4" r="3.8" fill="#fee090" stroke="#fee090" stroke-width="1" stroke-opacity="0.88"/>
<rect x="324.2" y="528.0" width="8.0" height="8.0" fill="#fdae61"/>
<circle cx="340.8" cy="535.1" r="3.8" fill="#4575b4" stroke="#4575b4" stroke-width="1" stroke-opacity="0.88"/>
<circle cx="310.8" cy="532.0" r="3.8" fill="#4575b4" stroke="#4575b4" stroke-width="1" stroke-opacity="0.88"/>
<circle cx="319.5" cy="535.9" r="3.8" fill="#4575b4" stroke="#4575b4" stroke-width="1" stroke-opacity="0.88"/>
<circle cx="346.3" cy="539.8" r="3.8" fill="#fee090" stroke="#fee090" stroke-width="1" stroke-opacity="0.88"/>
<circle cx="355.8" cy="537.5" r="3.8" fill="#fee090" stroke="#fee090" stroke-width="1" stroke-opacity="0.88"/>
<rect x="364.4" y="534.3" width="8.0" height="8.0" fill="#fdae61"/>
<circle cx="329.7" cy="541.4" r="3.8" fill="#4575b4" stroke="#4575b4" stroke-width="1" stroke-opacity="0.88"/>
<circle cx="313.2" cy="542.2" r="3.8" fill="#fee090" stroke="#fee090" stroke-width="1" stroke-opacity="0.88"/>
<circle cx="429.2" cy="537.5" r="3.8" fill="#4575b4" stroke="#4575b4" stroke-width="1" stroke-opacity="0.88"/>
<rect x="432.3" y="533.5" width="8.0" height="8.0" fill="#fdae61"/>
<rect x="411.0" y="537.4" width="8.0" height="8.0" fill="#fdae61"/>
<circle cx="395.3" cy="540.6" r="3.8" fill="#fee090" stroke="#fee090" stroke-width="1" stroke-opacity="0.88"/>
<path d="M233.2 472.5L238.6 481.3L227.8 481.3Z" fill="#f46d43"/>
<rect x="272.1" y="474.4" width="8.0" height="8.0" fill="#fdae61"/>
<path d="M279.9 489.5L285.3 498.3L274.5 498.3Z" fill="#f46d43"/>
<rect x="304.5" y="491.1" width="8.0" height="8.0" fill="#fdae61"/>
<circle cx="286.4" cy="506.5" r="3.8" fill="#fee090" stroke="#fee090" stroke-width="1" stroke-opacity="0.88"/>
<circle cx="292.5" cy="502.7" r="3.8" fill="#fee090" stroke="#fee090" stroke-width="1" stroke-opacity="0.88"/>
<circle cx="297.8" cy="500.4" r="3.8" fill="#fee090" stroke="#fee090" stroke-width="1" stroke-opacity="0.88"/>
<circle cx="301.6" cy="502.7" r="3.8" fill="#fee090" stroke="#fee090" stroke-width="1" stroke-opacity="0.88"/>
<circle cx="303.2" cy="510.3" r="3.8" fill="#fee090" stroke="#fee090" stroke-width="1" stroke-opacity="0.88"/>
<circle cx="297.1" cy="523.2" r="3.8" fill="#fee090" stroke="#fee090" stroke-width="1" stroke-opacity="0.88"/>
<circle cx="301.6" cy="533.9" r="3.8" fill="#fee090" stroke="#fee090" stroke-width="1" stroke-opacity="0.88"/>
<circle cx="303.2" cy="541.5" r="3.8" fill="#fee090" stroke="#fee090" stroke-width="1" stroke-opacity="0.88"/>
<path d="M263.3 510.8L268.7 519.6L257.9 519.6Z" fill="#abd9e9"/>
<rect x="251.0" y="536.0" width="8.0" height="8.0" fill="#fdae61"/>
<rect x="251.0" y="540.5" width="8.0" height="8.0" fill="#fdae61"/>
<rect x="231.8" y="546.3" width="8.0" height="8.0" fill="#fdae61"/>
<circle cx="281.6" cy="543.3" r="3.8" fill="#4575b4" stroke="#4575b4" stroke-width="1" stroke-opacity="0.88"/>
<circle cx="274.6" cy="547.8" r="3.8" fill="#4575b4" stroke="#4575b4" stroke-width="1" stroke-opacity="0.88"/>
<circle cx="269.4" cy="554.1" r="3.8" fill="#4575b4" stroke="#4575b4" stroke-width="1" stroke-opacity="0.88"/>
<rect x="282.4" y="554.2" width="8.0" height="8.0" fill="#fdae61"/>
<circle cx="307.7" cy="547.5" r="3.8" fill="#4575b4" stroke="#4575b4" stroke-width="1" stroke-opacity="0.88"/>
<path d="M301.6 548.1L307.0 556.9L296.2 556.9Z" fill="#f46d43"/>
<circle cx="328.2" cy="548.7" r="3.8" fill="#4575b4" stroke="#4575b4" stroke-width="1" stroke-opacity="0.88"/>
<rect x="321.8" y="550.2" width="8.0" height="8.0" fill="#fdae61"/>
<circle cx="339.2" cy="552.3" r="3.8" fill="#4575b4" stroke="#4575b4" stroke-width="1" stroke-opacity="0.88"/>
<circle cx="349.5" cy="548.7" r="3.8" fill="#fee090" stroke="#fee090" stroke-width="1" stroke-opacity="0.88"/>
<circle cx="351.8" cy="551.8" r="3.8" fill="#fee090" stroke="#fee090" stroke-width="1" stroke-opacity="0.88"/>
<circle cx="349.0" cy="544.0" r="3.8" fill="#fee090" stroke="#fee090" stroke-width="1" stroke-opacity="0.88"/>
<circle cx="340.0" cy="559.7" r="3.8" fill="#fee090" stroke="#fee090" stroke-width="1" stroke-opacity="0.88"/>
<circle cx="316.3" cy="560.5" r="3.8" fill="#fee090" stroke="#fee090" stroke-width="1" stroke-opacity="0.88"/>
<rect x="320.2" y="559.7" width="8.0" height="8.0" fill="#fdae61"/>
<circle cx="324.2" cy="573.2" r="3.8" fill="#4575b4" stroke="#4575b4" stroke-width="1" stroke-opacity="0.88"/>
<circle cx="314.7" cy="577.9" r="3.8" fill="#4575b4" stroke="#4575b4" stroke-width="1" stroke-opacity="0.88"/>
<circle cx="348.7" cy="568.4" r="3.8" fill="#fee090" stroke="#fee090" stroke-width="1" stroke-opacity="0.88"/>
<circle cx="354.2" cy="577.1" r="3.8" fill="#fee090" stroke="#fee090" stroke-width="1" stroke-opacity="0.88"/>
<rect x="335.2" y="573.9" width="8.0" height="8.0" fill="#fdae61"/>
<rect x="315.5" y="581.8" width="8.0" height="8.0" fill="#fdae61"/>
<circle cx="324.2" cy="589.0" r="3.8" fill="#4575b4" stroke="#4575b4" stroke-width="1" stroke-opacity="0.88"/>
<circle cx="310.8" cy="590.5" r="3.8" fill="#4575b4" stroke="#4575b4" stroke-width="1" stroke-opacity="0.88"/>
<circle cx="332.9" cy="593.4" r="3.8" fill="#4575b4" stroke="#4575b4" stroke-width="1" stroke-opacity="0.88"/>
<rect x="316.3" y="592.8" width="8.0" height="8.0" fill="#fdae61"/>
<rect x="323.4" y="598.4" width="8.0" height="8.0" fill="#fdae61"/>
<rect x="346.7" y="582.6" width="8.0" height="8.0" fill="#fdae61"/>
<circle cx="349.5" cy="604.0" r="3.8" fill="#fee090" stroke="#fee090" stroke-width="1" stroke-opacity="0.88"/>
<rect x="325.7" y="608.6" width="8.0" height="8.0" fill="#fdae61"/>
<rect x="317.8" y="615.0" width="8.0" height="8.0" fill="#fdae61"/>
<rect x="356.5" y="613.4" width="8.0" height="8.0" fill="#fdae61"/>
<circle cx="354.2" cy="618.2" r="3.8" fill="#fee090" stroke="#fee090" stroke-width="1" stroke-opacity="0.88"/>
<rect x="370.7" y="614.2" width="8.0" height="8.0" fill="#fdae61"/>
<circle cx="374.4" cy="598.4" r="3.8" fill="#fee090" stroke="#fee090" stroke-width="1" stroke-opacity="0.88"/>
<rect x="383.1" y="583.4" width="8.0" height="8.0" fill="#fdae61"/>
<circle cx="371.6" cy="556.6" r="3.8" fill="#fee090" stroke="#fee090" stroke-width="1" stroke-opacity="0.88"/>
<circle cx="378.7" cy="553.4" r="3.8" fill="#4575b4" stroke="#4575b4" stroke-width="1" stroke-opacity="0.88"/>
<circle cx="385.5" cy="558.2" r="3.8" fill="#fee090" stroke="#fee090" stroke-width="1" stroke-opacity="0.88"/>
<rect x="392.8" y="551.0" width="8.0" height="8.0" fill="#fdae61"/>
<circle cx="408.7" cy="553.4" r="3.8" fill="#fee090" stroke="#fee090" stroke-width="1" stroke-opacity="0.88"/>
<circle cx="412.6" cy="555.5" r="3.8" fill="#fee090" stroke="#fee090" stroke-width="1" stroke-opacity="0.88"/>
<rect x="418.1" y="561.3" width="8.0" height="8.0" fill="#fdae61"/>
<circle cx="428.0" cy="545.0" r="3.8" fill="#4575b4" stroke="#4575b4" stroke-width="1" stroke-opacity="0.88"/>
<circle cx="307.6" cy="610.8" r="3.8" fill="#4575b4" stroke="#4575b4" stroke-width="1" stroke-opacity="0.88"/>
<circle cx="305.1" cy="617.6" r="3.8" fill="#4575b4" stroke="#4575b4" stroke-width="1" stroke-opacity="0.88"/>
<rect x="303.6" y="619.6" width="8.0" height="8.0" fill="#fdae61"/>
<circle cx="339.9" cy="622.7" r="3.8" fill="#fee090" stroke="#fee090" stroke-width="1" stroke-opacity="0.88"/>
<circle cx="348.3" cy="624.4" r="3.8" fill="#fee090" stroke="#fee090" stroke-width="1" stroke-opacity="0.88"/>
<circle cx="339.9" cy="628.7" r="3.8" fill="#fee090" stroke="#fee090" stroke-width="1" stroke-opacity="0.88"/>
<rect x="341.8" y="632.8" width="8.0" height="8.0" fill="#fdae61"/>
<circle cx="231.9" cy="569.6" r="3.8" fill="#4575b4" stroke="#4575b4" stroke-width="1" stroke-opacity="0.88"/>
<circle cx="245.0" cy="566.7" r="3.8" fill="#4575b4" stroke="#4575b4" stroke-width="1" stroke-opacity="0.88"/>
<rect x="253.1" y="560.0" width="8.0" height="8.0" fill="#fdae61"/>
<path d="M259.9 567.7L265.3 576.5L254.5 576.5Z" fill="#f46d43"/>
<circle cx="271.2" cy="563.1" r="3.8" fill="#4575b4" stroke="#4575b4" stroke-width="1" stroke-opacity="0.88"/>
<rect x="273.0" y="569.0" width="8.0" height="8.0" fill="#fdae61"/>
<path d="M277.7 561.1L283.1 569.9L272.3 569.9Z" fill="#f46d43"/>
<circle cx="293.6" cy="564.0" r="3.8" fill="#4575b4" stroke="#4575b4" stroke-width="1" stroke-opacity="0.88"/>
<circle cx="299.2" cy="569.6" r="3.8" fill="#4575b4" stroke="#4575b4" stroke-width="1" stroke-opacity="0.88"/>
<circle cx="304.8" cy="565.9" r="3.8" fill="#4575b4" stroke="#4575b4" stroke-width="1" stroke-opacity="0.88"/>
<circle cx="294.5" cy="573.4" r="3.8" fill="#4575b4" stroke="#4575b4" stroke-width="1" stroke-opacity="0.88"/>
<circle cx="300.2" cy="573.4" r="3.8" fill="#4575b4" stroke="#4575b4" stroke-width="1" stroke-opacity="0.88"/>
<circle cx="307.6" cy="568.7" r="3.8" fill="#4575b4" stroke="#4575b4" stroke-width="1" stroke-opacity="0.88"/>
<circle cx="282.4" cy="581.8" r="3.8" fill="#4575b4" stroke="#4575b4" stroke-width="1" stroke-opacity="0.88"/>
<circle cx="284.3" cy="587.4" r="3.8" fill="#4575b4" stroke="#4575b4" stroke-width="1" stroke-opacity="0.88"/>
<circle cx="290.8" cy="583.7" r="3.8" fill="#4575b4" stroke="#4575b4" stroke-width="1" stroke-opacity="0.88"/>
<circle cx="286.6" cy="580.0" r="3.8" fill="#fee090" stroke="#fee090" stroke-width="1" stroke-opacity="0.88"/>
<rect x="296.2" y="578.7" width="8.0" height="8.0" fill="#fdae61"/>
<rect x="293.4" y="586.2" width="8.0" height="8.0" fill="#fdae61"/>
<rect x="291.5" y="590.0" width="8.0" height="8.0" fill="#fdae61"/>
<rect x="265.3" y="577.8" width="8.0" height="8.0" fill="#fdae61"/>
<rect x="274.6" y="579.7" width="8.0" height="8.0" fill="#fdae61"/>
<circle cx="244.0" cy="582.3" r="3.8" fill="#4575b4" stroke="#4575b4" stroke-width="1" stroke-opacity="0.88"/>
<circle cx="248.7" cy="582.3" r="3.8" fill="#4575b4" stroke="#4575b4" stroke-width="1" stroke-opacity="0.88"/>
<circle cx="241.2" cy="590.7" r="3.8" fill="#4575b4" stroke="#4575b4" stroke-width="1" stroke-opacity="0.88"/>
<circle cx="231.4" cy="594.4" r="3.8" fill="#4575b4" stroke="#4575b4" stroke-width="1" stroke-opacity="0.88"/>
<circle cx="254.8" cy="591.2" r="3.8" fill="#4575b4" stroke="#4575b4" stroke-width="1" stroke-opacity="0.88"/>
<circle cx="256.7" cy="595.4" r="3.8" fill="#4575b4" stroke="#4575b4" stroke-width="1" stroke-opacity="0.88"/>
<circle cx="263.7" cy="585.5" r="3.8" fill="#4575b4" stroke="#4575b4" stroke-width="1" stroke-opacity="0.88"/>
<circle cx="269.3" cy="589.3" r="3.8" fill="#4575b4" stroke="#4575b4" stroke-width="1" stroke-opacity="0.88"/>
<circle cx="273.0" cy="587.4" r="3.8" fill="#4575b4" stroke="#4575b4" stroke-width="1" stroke-opacity="0.88"/>
<circle cx="267.4" cy="595.8" r="3.8" fill="#4575b4" stroke="#4575b4" stroke-width="1" stroke-opacity="0.88"/>
<circle cx="273.0" cy="597.7" r="3.8" fill="#4575b4" stroke="#4575b4" stroke-width="1" stroke-opacity="0.88"/>
<circle cx="279.6" cy="598.6" r="3.8" fill="#4575b4" stroke="#4575b4" stroke-width="1" stroke-opacity="0.88"/>
<circle cx="242.2" cy="601.5" r="3.8" fill="#4575b4" stroke="#4575b4" stroke-width="1" stroke-opacity="0.88"/>
<circle cx="235.6" cy="603.3" r="3.8" fill="#4575b4" stroke="#4575b4" stroke-width="1" stroke-opacity="0.88"/>
<circle cx="231.9" cy="605.2" r="3.8" fill="#4575b4" stroke="#4575b4" stroke-width="1" stroke-opacity="0.88"/>
<circle cx="259.9" cy="602.4" r="3.8" fill="#4575b4" stroke="#4575b4" stroke-width="1" stroke-opacity="0.88"/>
<circle cx="265.5" cy="603.3" r="3.8" fill="#4575b4" stroke="#4575b4" stroke-width="1" stroke-opacity="0.88"/>
<circle cx="271.2" cy="604.3" r="3.8" fill="#4575b4" stroke="#4575b4" stroke-width="1" stroke-opacity="0.88"/>
<circle cx="248.7" cy="606.1" r="3.8" fill="#4575b4" stroke="#4575b4" stroke-width="1" stroke-opacity="0.88"/>
<circle cx="306.7" cy="596.8" r="3.8" fill="#4575b4" stroke="#4575b4" stroke-width="1" stroke-opacity="0.88"/>
<circle cx="307.6" cy="589.3" r="3.8" fill="#4575b4" stroke="#4575b4" stroke-width="1" stroke-opacity="0.88"/>
<circle cx="304.8" cy="603.3" r="3.8" fill="#4575b4" stroke="#4575b4" stroke-width="1" stroke-opacity="0.88"/>
<rect x="289.6" y="601.2" width="8.0" height="8.0" fill="#fdae61"/>
<rect x="293.4" y="599.3" width="8.0" height="8.0" fill="#fdae61"/>
<circle cx="284.3" cy="608.9" r="3.8" fill="#4575b4" stroke="#4575b4" stroke-width="1" stroke-opacity="0.88"/>
<circle cx="210.9" cy="577.8" r="3.8" fill="#4575b4" stroke="#4575b4" stroke-width="1" stroke-opacity="0.88"/>
<circle cx="219.5" cy="571.8" r="3.8" fill="#4575b4" stroke="#4575b4" stroke-width="1" stroke-opacity="0.88"/>
<circle cx="223.7" cy="571.8" r="3.8" fill="#4575b4" stroke="#4575b4" stroke-width="1" stroke-opacity="0.88"/>
<circle cx="223.0" cy="582.0" r="3.8" fill="#4575b4" stroke="#4575b4" stroke-width="1" stroke-opacity="0.88"/>
<circle cx="212.5" cy="591.5" r="3.8" fill="#4575b4" stroke="#4575b4" stroke-width="1" stroke-opacity="0.88"/>
<circle cx="218.1" cy="589.4" r="3.8" fill="#4575b4" stroke="#4575b4" stroke-width="1" stroke-opacity="0.88"/>
<circle cx="223.7" cy="588.7" r="3.8" fill="#4575b4" stroke="#4575b4" stroke-width="1" stroke-opacity="0.88"/>
<circle cx="216.7" cy="601.3" r="3.8" fill="#4575b4" stroke="#4575b4" stroke-width="1" stroke-opacity="0.88"/>
<circle cx="223.0" cy="599.9" r="3.8" fill="#4575b4" stroke="#4575b4" stroke-width="1" stroke-opacity="0.88"/>
<circle cx="227.2" cy="603.4" r="3.8" fill="#4575b4" stroke="#4575b4" stroke-width="1" stroke-opacity="0.88"/>
<circle cx="222.3" cy="607.0" r="3.8" fill="#4575b4" stroke="#4575b4" stroke-width="1" stroke-opacity="0.88"/>
<circle cx="218.1" cy="607.0" r="3.8" fill="#4575b4" stroke="#4575b4" stroke-width="1" stroke-opacity="0.88"/>
<rect x="250.4" y="608.3" width="8.0" height="8.0" fill="#fdae61"/>
<circle cx="262.6" cy="617.2" r="3.8" fill="#4575b4" stroke="#4575b4" stroke-width="1" stroke-opacity="0.88"/>
<rect x="257.4" y="622.2" width="8.0" height="8.0" fill="#fdae61"/>
<circle cx="253.2" cy="622.9" r="3.8" fill="#4575b4" stroke="#4575b4" stroke-width="1" stroke-opacity="0.88"/>
<circle cx="249.9" cy="626.2" r="3.8" fill="#4575b4" stroke="#4575b4" stroke-width="1" stroke-opacity="0.88"/>
<circle cx="286.0" cy="611.9" r="3.8" fill="#4575b4" stroke="#4575b4" stroke-width="1" stroke-opacity="0.88"/>
<circle cx="274.5" cy="634.8" r="3.8" fill="#4575b4" stroke="#4575b4" stroke-width="1" stroke-opacity="0.88"/>
<rect x="277.0" y="635.3" width="8.0" height="8.0" fill="#fdae61"/>
<rect x="271.3" y="638.6" width="8.0" height="8.0" fill="#fdae61"/>
<circle cx="254.0" cy="638.1" r="3.8" fill="#4575b4" stroke="#4575b4" stroke-width="1" stroke-opacity="0.88"/>
<circle cx="248.3" cy="640.1" r="3.8" fill="#4575b4" stroke="#4575b4" stroke-width="1" stroke-opacity="0.88"/>
<circle cx="252.4" cy="647.5" r="3.8" fill="#4575b4" stroke="#4575b4" stroke-width="1" stroke-opacity="0.88"/>
<circle cx="261.8" cy="645.9" r="3.8" fill="#4575b4" stroke="#4575b4" stroke-width="1" stroke-opacity="0.88"/>
<circle cx="266.7" cy="651.6" r="3.8" fill="#4575b4" stroke="#4575b4" stroke-width="1" stroke-opacity="0.88"/>
<circle cx="282.3" cy="647.5" r="3.8" fill="#4575b4" stroke="#4575b4" stroke-width="1" stroke-opacity="0.88"/>
<circle cx="286.0" cy="654.9" r="3.8" fill="#4575b4" stroke="#4575b4" stroke-width="1" stroke-opacity="0.88"/>
<circle cx="249.9" cy="657.3" r="3.8" fill="#4575b4" stroke="#4575b4" stroke-width="1" stroke-opacity="0.88"/>
<rect x="271.7" y="654.6" width="8.0" height="8.0" fill="#fdae61"/>
<circle cx="246.6" cy="632.8" r="3.8" fill="#4575b4" stroke="#4575b4" stroke-width="1" stroke-opacity="0.88"/>
<circle cx="250.0" cy="603.0" r="3.8" fill="#4575b4" stroke="#4575b4" stroke-width="1" stroke-opacity="0.88"/>
<circle cx="256.0" cy="603.0" r="3.8" fill="#4575b4" stroke="#4575b4" stroke-width="1" stroke-opacity="0.88"/>
<circle cx="262.0" cy="604.0" r="3.8" fill="#4575b4" stroke="#4575b4" stroke-width="1" stroke-opacity="0.88"/>
<circle cx="268.0" cy="604.0" r="3.8" fill="#4575b4" stroke="#4575b4" stroke-width="1" stroke-opacity="0.88"/>
<circle cx="250.0" cy="609.0" r="3.8" fill="#4575b4" stroke="#4575b4" stroke-width="1" stroke-opacity="0.88"/>
<circle cx="257.0" cy="608.0" r="3.8" fill="#4575b4" stroke="#4575b4" stroke-width="1" stroke-opacity="0.88"/>
<circle cx="248.0" cy="615.0" r="3.8" fill="#4575b4" stroke="#4575b4" stroke-width="1" stroke-opacity="0.88"/>
<circle cx="197.8" cy="709.0" r="3.8" fill="#4575b4" stroke="#4575b4" stroke-width="1" stroke-opacity="0.88"/>
<circle cx="198.8" cy="706.0" r="3.8" fill="#4575b4" stroke="#4575b4" stroke-width="1" stroke-opacity="0.88"/>
<circle cx="197.2" cy="702.0" r="3.8" fill="#4575b4" stroke="#4575b4" stroke-width="1" stroke-opacity="0.88"/>
<circle cx="200.0" cy="703.0" r="3.8" fill="#4575b4" stroke="#4575b4" stroke-width="1" stroke-opacity="0.88"/>
<circle cx="196.8" cy="697.0" r="3.8" fill="#4575b4" stroke="#4575b4" stroke-width="1" stroke-opacity="0.88"/>
<circle cx="201.5" cy="698.0" r="3.8" fill="#4575b4" stroke="#4575b4" stroke-width="1" stroke-opacity="0.88"/>
<circle cx="310.0" cy="533.0" r="3.8" fill="#4575b4" stroke="#4575b4" stroke-width="1" stroke-opacity="0.88"/>
<circle cx="311.0" cy="539.0" r="3.8" fill="#4575b4" stroke="#4575b4" stroke-width="1" stroke-opacity="0.88"/>
<circle cx="308.0" cy="545.5" r="3.8" fill="#4575b4" stroke="#4575b4" stroke-width="1" stroke-opacity="0.88"/>
<circle cx="306.0" cy="551.0" r="3.8" fill="#4575b4" stroke="#4575b4" stroke-width="1" stroke-opacity="0.88"/>
<circle cx="236.9" cy="228.0" r="3.8" fill="#d73027" stroke="#d73027" stroke-width="1" stroke-opacity="0.88"/>
<circle cx="486.1" cy="171.0" r="3.8" fill="#d73027" stroke="#d73027" stroke-width="1" stroke-opacity="0.88"/>
<circle cx="505.5" cy="474.7" r="3.8" fill="#d73027" stroke="#d73027" stroke-width="1" stroke-opacity="0.88"/>
<g fill-opacity="0.4"><rect x="210.5" y="666.0" width="8.0" height="8.0" fill="#74add1"/><rect x="208.7" y="671.0" width="8.0" height="8.0" fill="#74add1"/><rect x="205.8" y="678.5" width="8.0" height="8.0" fill="#74add1"/><rect x="201.6" y="682.0" width="8.0" height="8.0" fill="#74add1"/><rect x="201.6" y="687.0" width="8.0" height="8.0" fill="#74add1"/></g>
</g>
<g clip-path="url(#pc)">
<path d="M197.6 709.6 L197.6 709.5 L197.6 709.4 L197.6 709.1 L197.6 708.8 L197.7 708.4 L197.7 707.9 L197.8 707.4 L197.9 706.8 L198.0 706.1 L198.1 705.4 L198.2 704.6 L198.3 703.9 L198.5 703.1 L198.6 702.2 L198.8 701.4 L198.9 700.5 L199.1 699.6 L199.3 698.6 L199.5 697.7 L199.7 696.8 L199.9 695.8 L200.2 694.8 L200.4 693.8 L200.7 692.8 L200.9 691.8 L201.2 690.8 L201.5 689.8 L201.8 688.7 L202.1 687.7 L202.4 686.6 L202.7 685.6 L203.1 684.5 L203.4 683.5 L203.8 682.4 L204.2 681.3 L204.5 680.2 L204.9 679.2 L205.3 678.1 L205.8 677.0 L206.2 675.9 L206.6 674.8 L207.1 673.7 L207.5 672.5 L208.0 671.4 L208.5 670.3 L209.0 669.2 L209.5 668.1 L210.0 666.9 L210.5 665.8 L211.0 664.7 L211.6 663.5 L212.1 662.4 L212.7 661.3 L213.3 660.1 L213.9 659.0 L214.5 657.8 L215.1 656.6 L215.7 655.5 L216.3 654.3 L217.0 653.2 L217.6 652.0 L218.3 650.8 L218.9 649.7 L219.6 648.5 L220.3 647.3 L221.0 646.2 L221.7 645.0 L222.5 643.8 L223.2 642.6 L224.0 641.4 L224.7 640.2 L225.5 639.1 L226.3 637.9 L227.1 636.7 L227.9 635.5 L228.7 634.3 L229.5 633.1 L230.3 631.9 L231.2 630.7 L232.0 629.5 L232.9 628.3 L233.8 627.1 L234.7 625.9 L235.6 624.7 L236.5 623.5 L237.4 622.3 L238.3 621.0 L239.3 619.8 L240.2 618.6 L241.2 617.4 L242.2 616.2 L243.2 615.0 L244.2 613.7 L245.2 612.5 L246.2 611.3 L247.2 610.1 L248.3 608.8 L249.3 607.6 L250.4 606.4 L251.4 605.2 L252.5 603.9 L253.6 602.7 L254.7 601.4 L255.8 600.2 L257.0 599.0 L258.1 597.7 L259.2 596.5 L260.4 595.2 L261.6 594.0 L262.8 592.8 L263.9 591.5 L265.1 590.3 L266.4 589.0 L267.6 587.8 L268.8 586.5 L270.1 585.3 L271.3 584.0 L272.6 582.7 L273.9 581.5 L275.1 580.2 L276.4 579.0 L277.8 577.7 L279.1 576.5 L280.4 575.2 L281.8 573.9 L283.1 572.7 L284.5 571.4 L285.8 570.1 L287.2 568.9 L288.6 567.6 L290.0 566.3 L291.4 565.0 L292.9 563.8 L294.3 562.5 L295.8 561.2 L297.2 559.9 L298.7 558.7 L300.2 557.4 L301.7 556.1 L303.2 554.8 L304.7 553.5 L306.2 552.2 L307.7 550.9 L309.3 549.6 L310.8 548.3 L312.4 547.0 L314.0 545.7 L315.6 544.4 L317.2 543.1 L318.8 541.7 L320.4 540.4 L322.1 539.1 L323.7 537.8 L325.3 536.5 L327.0 535.2 L328.7 533.9 L330.4 532.5 L332.1 531.2 L333.8 529.9 L335.5 528.6 L337.2 527.3 L339.0 525.9 L340.7 524.6 L342.5 523.3 L344.3 522.0 L346.0 520.6 L347.8 519.3 L349.6 518.0 L351.5 516.6 L353.3 515.3 L355.1 514.0 L357.0 512.6 L358.8 511.3 L360.7 509.9 L362.6 508.6 L364.5 507.3 L366.4 505.9 L368.3 504.6 L370.2 503.2 L372.1 501.9 L374.1 500.5 L376.0 499.2 L378.0 497.8 L380.0 496.5 L382.0 495.1 L384.0 493.8 L386.0 492.4 L388.0 491.1 L390.0 489.7 L392.1 488.3 L394.1 487.0 L396.2 485.6 L398.3 484.3 L400.4 482.9 L402.5 481.6 L404.6 480.2 L406.7 478.9 L408.8 477.5 L410.9 476.2 L413.1 474.8 L415.3 473.5 L417.4 472.1 L419.6 470.8 L421.8 469.4 L424.0 468.1 L426.2 466.7 L428.4 465.4 L430.7 464.0 L432.9 462.7 L435.2 461.3 L437.5 459.9 L439.7 458.6 L442.0 457.2 L444.3 455.8 L446.6 454.5 L449.0 453.1 L451.3 451.7 L453.6 450.3 L456.0 449.0 L458.4 447.6 L460.7 446.2 L463.1 444.8 L465.5 443.4 L467.9 442.0 L470.3 440.7 L472.8 439.3 L475.2 437.9 L477.7 436.5 L480.1 435.1 L482.6 433.7 L485.1 432.3 L487.6 430.9 L490.1 429.5 L492.6 428.2 L495.1 426.8 L497.7 425.4 L500.2 424.0 L502.8 422.6 L505.4 421.2 L507.9 419.8 L510.5 418.4 L513.1 417.0 L515.7 415.6 L518.4 414.2 L521.0 412.8 L523.6 411.4 L526.3 410.0 L529.0 408.6 L531.6 407.1 L534.3 405.7 L537.0 404.3 L539.7 402.9 L542.5 401.5 L545.2 400.1 L547.9 398.7 L550.7 397.3 L553.5 395.9 L556.2 394.4 L559.0 393.0 L561.8 391.6 L564.6 390.2 L567.4 388.8 L570.3 387.4 L573.1 386.0 L576.0 384.6 L578.8 383.2 L581.7 381.8 L584.6 380.4 L587.5 379.1 L590.4 377.7 L593.3 376.3 L596.2 374.9 L599.2 373.5 L602.1 372.1 L605.1 370.7 L608.0 369.3 L611.0 367.9 L614.0 366.5 L617.0 365.1 L620.0 363.7 L623.0 362.4 L626.1 361.0 L629.1 359.6 L632.2 358.2 L635.2 356.8 L638.3 355.4 L641.4 354.0 L644.5 352.6 L647.6 351.2 L650.7 349.8 L653.9 348.4 L657.0 346.9 L660.2 345.5 L663.3 344.1 L666.5 342.7 L669.7 341.3 L672.9 339.9 L676.1 338.5 L679.3 337.1 L682.5 335.7 L682.5 372.5 L679.3 373.7 L676.1 374.9 L672.9 376.1 L669.7 377.4 L666.5 378.6 L663.3 379.8 L660.2 381.0 L657.0 382.2 L653.9 383.4 L650.7 384.6 L647.6 385.9 L644.5 387.1 L641.4 388.3 L638.3 389.5 L635.2 390.7 L632.2 391.9 L629.1 393.1 L626.1 394.4 L623.0 395.6 L620.0 396.8 L617.0 398.0 L614.0 399.2 L611.0 400.4 L608.0 401.6 L605.1 402.9 L602.1 404.1 L599.2 405.3 L596.2 406.5 L593.3 407.7 L590.4 408.9 L587.5 410.1 L584.6 411.4 L581.7 412.6 L578.8 413.8 L576.0 415.0 L573.1 416.2 L570.3 417.4 L567.4 418.6 L564.6 419.8 L561.8 421.0 L559.0 422.1 L556.2 423.3 L553.5 424.5 L550.7 425.7 L547.9 426.8 L545.2 428.0 L542.5 429.2 L539.7 430.4 L537.0 431.6 L534.3 432.7 L531.6 433.9 L529.0 435.1 L526.3 436.3 L523.6 437.4 L521.0 438.6 L518.4 439.8 L515.7 441.0 L513.1 442.2 L510.5 443.3 L507.9 444.5 L505.4 445.7 L502.8 446.9 L500.2 448.0 L497.7 449.2 L495.1 450.4 L492.6 451.6 L490.1 452.8 L487.6 453.9 L485.1 455.1 L482.6 456.3 L480.1 457.5 L477.7 458.6 L475.2 459.8 L472.8 461.0 L470.3 462.2 L467.9 463.4 L465.5 464.5 L463.1 465.7 L460.7 466.9 L458.4 468.1 L456.0 469.2 L453.6 470.4 L451.3 471.6 L449.0 472.8 L446.6 474.0 L444.3 475.1 L442.0 476.3 L439.7 477.5 L437.5 478.7 L435.2 479.9 L432.9 481.1 L430.7 482.3 L428.4 483.5 L426.2 484.7 L424.0 485.8 L421.8 487.0 L419.6 488.2 L417.4 489.4 L415.3 490.6 L413.1 491.8 L410.9 493.0 L408.8 494.2 L406.7 495.4 L404.6 496.6 L402.5 497.7 L400.4 498.9 L398.3 500.1 L396.2 501.3 L394.1 502.5 L392.1 503.6 L390.0 504.8 L388.0 506.0 L386.0 507.1 L384.0 508.3 L382.0 509.5 L380.0 510.6 L378.0 511.8 L376.0 513.0 L374.1 514.1 L372.1 515.3 L370.2 516.5 L368.3 517.7 L366.4 518.8 L364.5 520.0 L362.6 521.2 L360.7 522.3 L358.8 523.5 L357.0 524.7 L355.1 525.8 L353.3 527.0 L351.5 528.2 L349.6 529.3 L347.8 530.5 L346.0 531.7 L344.3 532.8 L342.5 534.0 L340.7 535.2 L339.0 536.4 L337.2 537.5 L335.5 538.7 L333.8 539.9 L332.1 541.0 L330.4 542.2 L328.7 543.4 L327.0 544.6 L325.3 545.7 L323.7 546.9 L322.1 548.1 L320.4 549.2 L318.8 550.4 L317.2 551.6 L315.6 552.7 L314.0 553.9 L312.4 555.1 L310.8 556.2 L309.3 557.4 L307.7 558.6 L306.2 559.7 L304.7 560.9 L303.2 562.1 L301.7 563.2 L300.2 564.4 L298.7 565.6 L297.2 566.8 L295.8 567.9 L294.3 569.1 L292.9 570.3 L291.4 571.5 L290.0 572.7 L288.6 573.8 L287.2 575.0 L285.8 576.2 L284.5 577.4 L283.1 578.5 L281.8 579.7 L280.4 580.9 L279.1 582.1 L277.8 583.3 L276.4 584.4 L275.1 585.6 L273.9 586.8 L272.6 587.9 L271.3 589.1 L270.1 590.3 L268.8 591.5 L267.6 592.6 L266.4 593.8 L265.1 595.0 L263.9 596.1 L262.8 597.3 L261.6 598.5 L260.4 599.6 L259.2 600.8 L258.1 602.0 L257.0 603.1 L255.8 604.3 L254.7 605.5 L253.6 606.6 L252.5 607.8 L251.4 609.0 L250.4 610.1 L249.3 611.3 L248.3 612.4 L247.2 613.6 L246.2 614.7 L245.2 615.9 L244.2 617.1 L243.2 618.2 L242.2 619.4 L241.2 620.5 L240.2 621.7 L239.3 622.8 L238.3 624.0 L237.4 625.1 L236.5 626.3 L235.6 627.4 L234.7 628.6 L233.8 629.7 L232.9 630.9 L232.0 632.0 L231.2 633.2 L230.3 634.3 L229.5 635.4 L228.7 636.6 L227.9 637.7 L227.1 638.8 L226.3 640.0 L225.5 641.1 L224.7 642.2 L224.0 643.4 L223.2 644.5 L222.5 645.6 L221.7 646.8 L221.0 647.9 L220.3 649.0 L219.6 650.1 L218.9 651.3 L218.3 652.4 L217.6 653.5 L217.0 654.6 L216.3 655.7 L215.7 656.8 L215.1 658.0 L214.5 659.1 L213.9 660.2 L213.3 661.3 L212.7 662.4 L212.1 663.5 L211.6 664.6 L211.0 665.7 L210.5 666.8 L210.0 667.9 L209.5 669.0 L209.0 670.1 L208.5 671.1 L208.0 672.2 L207.5 673.3 L207.1 674.4 L206.6 675.5 L206.2 676.5 L205.8 677.6 L205.3 678.7 L204.9 679.7 L204.5 680.8 L204.2 681.8 L203.8 682.9 L203.4 683.9 L203.1 685.0 L202.7 686.0 L202.4 687.0 L202.1 688.1 L201.8 689.1 L201.5 690.1 L201.2 691.1 L200.9 692.1 L200.7 693.1 L200.4 694.1 L200.2 695.0 L199.9 696.0 L199.7 696.9 L199.5 697.9 L199.3 698.8 L199.1 699.7 L198.9 700.6 L198.8 701.5 L198.6 702.3 L198.5 703.2 L198.3 704.0 L198.2 704.7 L198.1 705.5 L198.0 706.2 L197.9 706.8 L197.8 707.4 L197.7 708.0 L197.7 708.5 L197.6 708.9 L197.6 709.2 L197.6 709.4 L197.6 709.6 L197.6 709.6Z" fill="#999999" fill-opacity="0.45"/>
</g>
<rect x="441" y="37" width="377" height="682" fill="#0000ff" fill-opacity="0.1"/>
<g clip-path="url(#pc)">
<path d="M197.6 709.6 L197.6 709.5 L197.6 709.4 L197.6 709.2 L197.6 708.8 L197.7 708.4 L197.7 707.9 L197.8 707.4 L197.9 706.8 L198.0 706.1 L198.1 705.4 L198.2 704.7 L198.3 703.9 L198.5 703.1 L198.6 702.3 L198.8 701.4 L198.9 700.5 L199.1 699.6 L199.3 698.7 L199.5 697.8 L199.7 696.8 L199.9 695.9 L200.2 694.9 L200.4 693.9 L200.7 693.0 L200.9 692.0 L201.2 690.9 L201.5 689.9 L201.8 688.9 L202.1 687.9 L202.4 686.8 L202.7 685.8 L203.1 684.8 L203.4 683.7 L203.8 682.6 L204.2 681.6 L204.5 680.5 L204.9 679.4 L205.3 678.4 L205.8 677.3 L206.2 676.2 L206.6 675.1 L207.1 674.0 L207.5 672.9 L208.0 671.8 L208.5 670.7 L209.0 669.6 L209.5 668.5 L210.0 667.4 L210.5 666.3 L211.0 665.2 L211.6 664.1 L212.1 662.9 L212.7 661.8 L213.3 660.7 L213.9 659.6 L214.5 658.4 L215.1 657.3 L215.7 656.2 L216.3 655.0 L217.0 653.9 L217.6 652.8 L218.3 651.6 L218.9 650.5 L219.6 649.3 L220.3 648.2 L221.0 647.0 L221.7 645.9 L222.5 644.7 L223.2 643.6 L224.0 642.4 L224.7 641.2 L225.5 640.1 L226.3 638.9 L227.1 637.8 L227.9 636.6 L228.7 635.4 L229.5 634.3 L230.3 633.1 L231.2 631.9 L232.0 630.8 L232.9 629.6 L233.8 628.4 L234.7 627.2 L235.6 626.1 L236.5 624.9 L237.4 623.7 L238.3 622.5 L239.3 621.3 L240.2 620.1 L241.2 619.0 L242.2 617.8 L243.2 616.6 L244.2 615.4 L245.2 614.2 L246.2 613.0 L247.2 611.8 L248.3 610.6 L249.3 609.4 L250.4 608.2 L251.4 607.1 L252.5 605.9 L253.6 604.7 L254.7 603.5 L255.8 602.3 L257.0 601.1 L258.1 599.9 L259.2 598.6 L260.4 597.4 L261.6 596.2 L262.8 595.0 L263.9 593.8 L265.1 592.6 L266.4 591.4 L267.6 590.2 L268.8 589.0 L270.1 587.8 L271.3 586.6 L272.6 585.3 L273.9 584.1 L275.1 582.9 L276.4 581.7 L277.8 580.5 L279.1 579.3 L280.4 578.0 L281.8 576.8 L283.1 575.6 L284.5 574.4 L285.8 573.2 L287.2 571.9 L288.6 570.7 L290.0 569.5 L291.4 568.3 L292.9 567.0 L294.3 565.8 L295.8 564.6 L297.2 563.4 L298.7 562.1 L300.2 560.9 L301.7 559.7 L303.2 558.4 L304.7 557.2 L306.2 556.0 L307.7 554.7 L309.3 553.5 L310.8 552.3 L312.4 551.0 L314.0 549.8 L315.6 548.5 L317.2 547.3 L318.8 546.1 L320.4 544.8 L322.1 543.6 L323.7 542.3 L325.3 541.1 L327.0 539.9 L328.7 538.6 L330.4 537.4 L332.1 536.1 L333.8 534.9 L335.5 533.6 L337.2 532.4 L339.0 531.1 L340.7 529.9 L342.5 528.7 L344.3 527.4 L346.0 526.2 L347.8 524.9 L349.6 523.7 L351.5 522.4 L353.3 521.1 L355.1 519.9 L357.0 518.6 L358.8 517.4 L360.7 516.1 L362.6 514.9 L364.5 513.6 L366.4 512.4 L368.3 511.1 L370.2 509.9 L372.1 508.6 L374.1 507.3 L376.0 506.1 L378.0 504.8 L380.0 503.6 L382.0 502.3 L384.0 501.0 L386.0 499.8 L388.0 498.5 L390.0 497.2 L392.1 496.0 L394.1 494.7 L396.2 493.5 L398.3 492.2 L400.4 490.9 L402.5 489.7 L404.6 488.4 L406.7 487.1 L408.8 485.9 L410.9 484.6 L413.1 483.3 L415.3 482.0 L417.4 480.8 L419.6 479.5 L421.8 478.2 L424.0 477.0 L426.2 475.7 L428.4 474.4 L430.7 473.1 L432.9 471.9 L435.2 470.6 L437.5 469.3 L439.7 468.0 L442.0 466.8 L444.3 465.5 L446.6 464.2 L449.0 462.9 L451.3 461.7 L453.6 460.4 L456.0 459.1 L458.4 457.8 L460.7 456.5 L463.1 455.3 L465.5 454.0 L467.9 452.7 L470.3 451.4 L472.8 450.1 L475.2 448.9 L477.7 447.6 L480.1 446.3 L482.6 445.0 L485.1 443.7 L487.6 442.4 L490.1 441.2 L492.6 439.9 L495.1 438.6 L497.7 437.3 L500.2 436.0 L502.8 434.7 L505.4 433.4 L507.9 432.1 L510.5 430.9 L513.1 429.6 L515.7 428.3 L518.4 427.0 L521.0 425.7 L523.6 424.4 L526.3 423.1 L529.0 421.8 L531.6 420.5 L534.3 419.2 L537.0 417.9 L539.7 416.6 L542.5 415.4 L545.2 414.1 L547.9 412.8 L550.7 411.5 L553.5 410.2 L556.2 408.9 L559.0 407.6 L561.8 406.3 L564.6 405.0 L567.4 403.7 L570.3 402.4 L573.1 401.1 L576.0 399.8 L578.8 398.5 L581.7 397.2 L584.6 395.9 L587.5 394.6 L590.4 393.3 L593.3 392.0 L596.2 390.7 L599.2 389.4 L602.1 388.1 L605.1 386.8 L608.0 385.5 L611.0 384.2 L614.0 382.9 L617.0 381.6 L620.0 380.3 L623.0 379.0 L626.1 377.7 L629.1 376.4 L632.2 375.0 L635.2 373.7 L638.3 372.4 L641.4 371.1 L644.5 369.8 L647.6 368.5 L650.7 367.2 L653.9 365.9 L657.0 364.6 L660.2 363.3 L663.3 362.0 L666.5 360.7 L669.7 359.3 L672.9 358.0 L676.1 356.7 L679.3 355.4 L682.5 354.1" fill="none" stroke="#000" stroke-width="2.5"/>
<line x1="168.90" y1="747.77" x2="852" y2="47.3" stroke="#000" stroke-width="2.6" stroke-dasharray="8 9.245"/>
</g>
<rect x="107.5" y="3" width="744.5" height="750" fill="none" stroke="#333" stroke-width="1.2"/>
<g stroke="#333" stroke-width="1.2">
<line x1="101.8" y1="719.2" x2="107" y2="719.2"/><line x1="101.5" y1="491.7" x2="107" y2="491.7"/>
<line x1="101.5" y1="264.3" x2="107" y2="264.3"/><line x1="101.5" y1="37" x2="107" y2="37"/>
<line x1="197" y1="753" x2="197" y2="758.5"/><line x1="418.7" y1="753" x2="418.7" y2="758.5"/>
<line x1="640.4" y1="753" x2="640.4" y2="758.5"/>
</g>
<g fill-opacity="0.88">
<circle cx="136.0" cy="80.0" r="3.8" fill="#d73027" stroke="#d73027" stroke-width="1" stroke-opacity="0.88"/>
<path d="M136.0 104.3L141.4 113.1L130.6 113.1Z" fill="#f46d43"/>
<rect x="132.0" y="134.3" width="8.0" height="8.0" fill="#fdae61"/>
<circle cx="136.0" cy="167.5" r="3.8" fill="#fee090" stroke="#fee090" stroke-width="1" stroke-opacity="0.88"/>
<path d="M136.0 191.8L141.4 200.6L130.6 200.6Z" fill="#abd9e9"/>
<rect x="132.0" y="221.9" width="8.0" height="8.0" fill="#74add1"/>
<circle cx="136.0" cy="255.0" r="3.8" fill="#4575b4" stroke="#4575b4" stroke-width="1" stroke-opacity="0.88"/>
</g>
<text transform="translate(96.20,730.90) scale(0.965,1)" font-size="33.2" text-anchor="end">0</text>
<text transform="translate(96.20,503.60) scale(0.965,1)" font-size="33.2" text-anchor="end">20</text>
<text transform="translate(96.20,276.20) scale(0.965,1)" font-size="33.2" text-anchor="end">40</text>
<text transform="translate(96.20,48.90) scale(0.965,1)" font-size="33.2" text-anchor="end">60</text>
<text transform="translate(197.00,790.30) scale(0.965,1)" font-size="33.2" text-anchor="middle">0</text>
<text transform="translate(418.70,790.30) scale(0.965,1)" font-size="33.2" text-anchor="middle">20</text>
<text transform="translate(640.40,790.30) scale(0.965,1)" font-size="33.2" text-anchor="middle">40</text>
<text transform="translate(118.36,44.00) scale(0.965,1)" font-size="37.6" text-anchor="start">Country</text>
<text transform="translate(170.57,90.10) scale(0.965,1)" font-size="29.4" text-anchor="start">BE, DK, NL</text>
<text transform="translate(171.46,119.27) scale(0.965,1)" font-size="29.4" text-anchor="start">CH</text>
<text transform="translate(171.46,148.44) scale(0.965,1)" font-size="29.4" text-anchor="start">CZ</text>
<text transform="translate(170.57,177.61) scale(0.965,1)" font-size="29.4" text-anchor="start">DE</text>
<text transform="translate(170.57,206.78) scale(0.965,1)" font-size="29.4" text-anchor="start">ES</text>
<text transform="translate(170.57,235.95) scale(0.965,1)" font-size="29.4" text-anchor="start">FI</text>
<text transform="translate(171.61,265.12) scale(0.965,1)" font-size="29.4" text-anchor="start">SE</text>
<text transform="translate(154.18,835.00) scale(0.965,1)" font-size="38.0" text-anchor="start">Throughfall</text>
<text transform="translate(344.59,835.00) scale(0.965,1)" font-size="38.0" text-anchor="start">N</text>
<text transform="translate(379.66,835.00) scale(0.965,1)" font-size="38.0" text-anchor="start">deposition</text>
<text transform="translate(555.11,835.00) scale(1,1)" font-size="43.0" text-anchor="start" font-family="Liberation Serif">(</text>
<text transform="translate(570.13,835.00) scale(0.965,1)" font-size="38.0" text-anchor="start">kg</text>
<text transform="translate(616.49,835.00) scale(0.965,1)" font-size="38.0" text-anchor="start">N</text>
<text transform="translate(651.96,835.00) scale(0.965,1)" font-size="38.0" text-anchor="start">ha</text>
<text transform="translate(692.76,817.50) scale(0.965,1)" font-size="26.0" text-anchor="start">−</text>
<text transform="translate(706.53,817.50) scale(0.965,1)" font-size="26.0" text-anchor="start">1</text>
<text transform="translate(732.51,835.00) scale(0.965,1)" font-size="38.0" text-anchor="start">yr</text>
<text transform="translate(760.86,817.50) scale(0.965,1)" font-size="26.0" text-anchor="start">−</text>
<text transform="translate(774.18,817.50) scale(0.965,1)" font-size="26.0" text-anchor="start">1</text>
<text transform="translate(790.21,835.00) scale(1,1)" font-size="43.0" text-anchor="start" font-family="Liberation Serif">)</text>
<text transform="translate(38.90,653.82) rotate(-90) scale(0.965,1)" font-size="38.0">Total</text>
<text transform="translate(38.90,564.61) rotate(-90) scale(0.965,1)" font-size="38.0">N</text>
<text transform="translate(38.90,529.04) rotate(-90) scale(0.965,1)" font-size="38.0">deposition</text>
<text transform="translate(38.90,352.59) rotate(-90) scale(1,1)" font-size="43.0" font-family="Liberation Serif">(</text>
<text transform="translate(38.90,338.27) rotate(-90) scale(0.965,1)" font-size="38.0">kg</text>
<text transform="translate(38.90,291.61) rotate(-90) scale(0.965,1)" font-size="38.0">N</text>
<text transform="translate(38.90,255.54) rotate(-90) scale(0.965,1)" font-size="38.0">ha</text>
<text transform="translate(21.40,216.64) rotate(-90) scale(0.965,1)" font-size="26.0">−</text>
<text transform="translate(21.40,202.72) rotate(-90) scale(0.965,1)" font-size="26.0">1</text>
<text transform="translate(38.90,175.49) rotate(-90) scale(0.965,1)" font-size="38.0">yr</text>
<text transform="translate(21.40,148.94) rotate(-90) scale(0.965,1)" font-size="26.0">−</text>
<text transform="translate(21.40,135.02) rotate(-90) scale(0.965,1)" font-size="26.0">1</text>
<text transform="translate(38.90,118.29) rotate(-90) scale(1,1)" font-size="43.0" font-family="Liberation Serif">)</text>
<text transform="translate(626.73,87.50) scale(0.965,1)" font-size="29.4" text-anchor="start">y</text>
<text transform="translate(647.31,87.50) scale(0.965,1)" font-size="29.4" text-anchor="start">=</text>
<text transform="translate(671.95,87.50) scale(0.965,1)" font-size="29.4" text-anchor="start">4.17</text>
<text transform="translate(735.67,82.00) scale(0.965,1)" font-size="21.0" text-anchor="start">*</text>
<text transform="translate(754.28,87.50) scale(0.965,1)" font-size="29.4" text-anchor="start">x</text>
<text transform="translate(767.75,73.80) scale(0.965,1)" font-size="20.0" text-anchor="start">0.54</text>
<text transform="translate(688.97,129.80) scale(0.965,1)" font-size="29.4" text-anchor="start">R</text>
<text transform="translate(708.65,115.50) scale(0.965,1)" font-size="17.5" text-anchor="start">2</text>
<text transform="translate(728.11,129.80) scale(0.965,1)" font-size="29.4" text-anchor="start">=</text>
<text transform="translate(752.29,129.80) scale(0.965,1)" font-size="29.4" text-anchor="start">0.82</text>
</svg>
</body></html>
